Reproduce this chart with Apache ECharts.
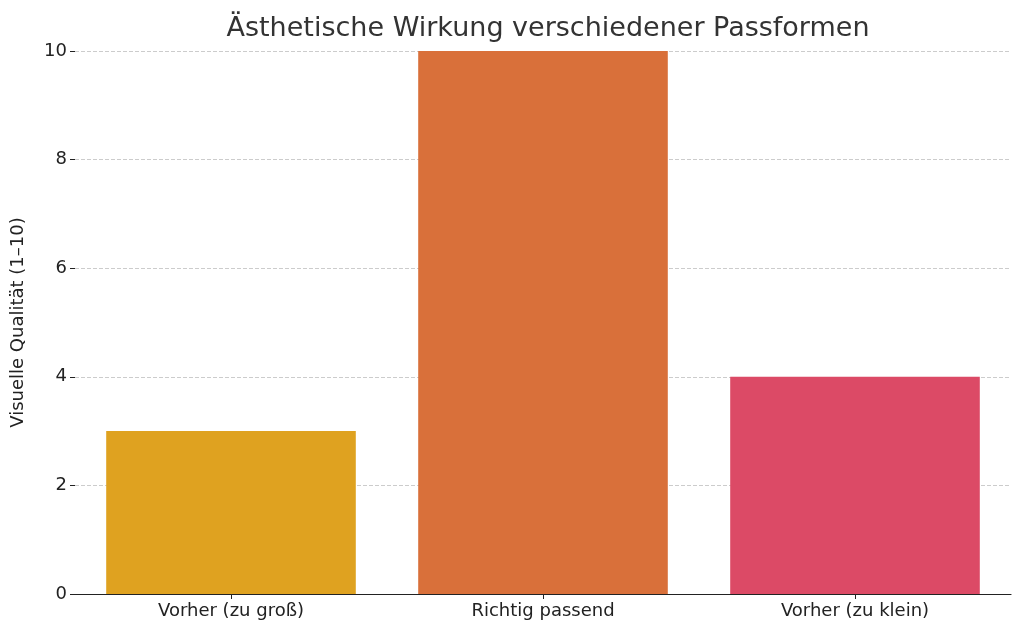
<!DOCTYPE html>
<html><head><meta charset="utf-8">
<script src="https://cdn.jsdelivr.net/npm/echarts@6/dist/echarts.min.js"></script>
<style>html,body{margin:0;padding:0;background:#fff}#c{width:1024px;height:635px}</style>
</head><body><div id="c"></div>
<script>
const categories = ["Vorher (zu groß)", "Richtig passend", "Vorher (zu klein)"];
const values = [3, 10, 4];
const colors = ["#DFA220", "#D9703A", "#DC4A66"];
const chart = echarts.init(document.getElementById('c'));
chart.setOption({
  animation: false,
  textStyle: {fontFamily: 'DejaVu Sans'},
  title: {text: 'Ästhetische Wirkung verschiedener Passformen', left: 543, top: 10, textAlign: 'center',
    textStyle: {fontSize: 27, fontWeight: 'normal', color: '#333', fontFamily: 'DejaVu Sans'}},
  grid: {left: 75, right: 13, top: 51, bottom: 41},
  xAxis: {type: 'category', data: categories,
    axisLine: {lineStyle: {color: '#222', width: 1.2}},
    axisTick: {show: true, alignWithLabel: true, lineStyle: {color: '#222'}},
    axisLabel: {fontSize: 18, color: '#222', margin: 8}},
  yAxis: {type: 'value', min: 0, max: 10, interval: 2,
    name: 'Visuelle Qualität (1–10)', nameLocation: 'middle', nameGap: 48,
    nameTextStyle: {fontSize: 18, color: '#222'},
    axisLine: {show: false}, axisTick: {show: true, lineStyle: {color: '#222'}},
    axisLabel: {fontSize: 18, color: '#222'},
    splitLine: {lineStyle: {type: 'dashed', color: '#ccc'}}},
  series: [{type: 'bar', barCategoryGap: '20%',
    data: values.map((v, i) => ({value: v, itemStyle: {color: colors[i]}}))}]
});
</script></body></html>
